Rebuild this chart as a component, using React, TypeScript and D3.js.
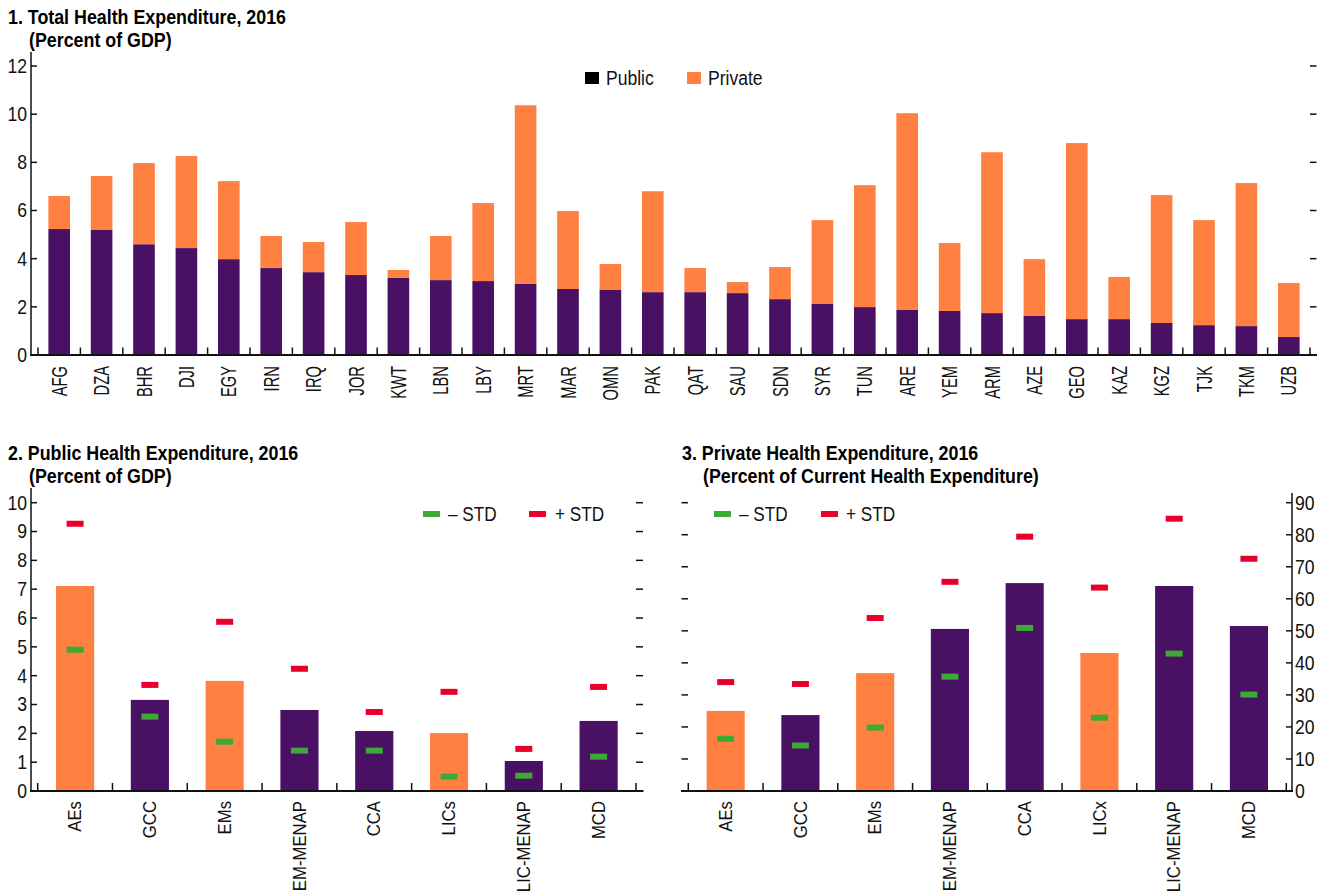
import React from "react";
import * as d3 from "d3";

// ---------- Data ----------
const countries = ["AFG","DZA","BHR","DJI","EGY","IRN","IRQ","JOR","KWT","LBN","LBY","MRT","MAR","OMN","PAK","QAT","SAU","SDN","SYR","TUN","ARE","YEM","ARM","AZE","GEO","KAZ","KGZ","TJK","TKM","UZB"];
const publicExp = [5.23,5.19,4.6,4.44,3.98,3.61,3.44,3.32,3.2,3.11,3.07,2.95,2.74,2.7,2.61,2.61,2.57,2.32,2.12,1.99,1.87,1.83,1.74,1.62,1.49,1.49,1.33,1.24,1.2,0.75];
const totalExp = [6.6,7.43,7.97,8.26,7.22,4.94,4.69,5.52,3.53,4.94,6.31,10.37,5.98,3.78,6.8,3.61,3.03,3.65,5.6,7.05,10.04,4.65,8.42,3.98,8.8,3.24,6.64,5.6,7.14,2.99];
const privateExp = totalExp.map((t, i) => +(t - publicExp[i]).toFixed(2));
const topTicks = [0, 2, 4, 6, 8, 10, 12];

const groupsPub = ["AEs","GCC","EMs","EM-MENAP","CCA","LICs","LIC-MENAP","MCD"];
const groupsPriv = ["AEs","GCC","EMs","EM-MENAP","CCA","LICx","LIC-MENAP","MCD"];
const groupHighlight = [true,false,true,false,false,true,false,false];

const pubMean = [7.11,3.16,3.82,2.81,2.08,2.01,1.04,2.43];
const pubPlus = [9.27,3.68,5.87,4.24,2.74,3.44,1.46,3.61];
const pubMinus = [4.9,2.58,1.71,1.4,1.4,0.5,0.53,1.19];
const pubTicks = [0,1,2,3,4,5,6,7,8,9,10];

const privMean = [25.0,23.7,36.8,50.6,64.9,43.1,64.0,51.5];
const privPlus = [34.0,33.4,54.0,65.3,79.4,63.5,85.0,72.5];
const privMinus = [16.3,14.2,19.8,35.7,50.9,22.9,42.9,30.1];
const privTicks = [0,10,20,30,40,50,60,70,80,90];

// ---------- Style ----------
const PURPLE = "#4a1064";
const ORANGE = "#ff8040";
const GREEN = "#3caa33";
const RED = "#e8002d";
const FONT = "'Liberation Sans', Arial, sans-serif";
const AX = "#111";

type TProps = {
  x: number; y: number; sx?: number; rot?: number; size?: number; bold?: boolean;
  anchor?: "start" | "middle" | "end"; baseline?: string; fill?: string; children: React.ReactNode;
};

// Narrow text: regular font compressed horizontally
function NText({ x, y, sx = 0.85, rot = 0, size = 20, bold = false, anchor = "start", baseline, fill = "#111", children }: TProps) {
  const tr = `translate(${x},${y})` + (rot ? ` rotate(${rot})` : "") + ` scale(${sx},1)`;
  return (
    <text transform={tr} fontSize={size} fontWeight={bold ? "bold" : "normal"} textAnchor={anchor}
      dominantBaseline={baseline as any} fill={fill}>{children}</text>
  );
}

function App() {
  // ---- Top chart ----
  const xTop = d3.scaleBand<string>().domain(countries).range([38, 1310]).paddingInner(0.49).paddingOuter(0.245);
  const yTop = d3.scaleLinear().domain([0, 12]).range([355, 66]);
  const stepTop = xTop.step();
  const topBounds = d3.range(countries.length + 1).map((i) => 38 + i * stepTop);

  // ---- Bottom left ----
  const xBL = d3.scaleBand<string>().domain(groupsPub).range([37.7, 636]).paddingInner(0.49).paddingOuter(0.245);
  const yBL = d3.scaleLinear().domain([0, 10]).range([791, 502.7]);
  const blBounds = d3.range(groupsPub.length + 1).map((i) => 37.7 + i * xBL.step());

  // ---- Bottom right ----
  const xBR = d3.scaleBand<string>().domain(groupsPriv).range([688.3, 1286.3]).paddingInner(0.49).paddingOuter(0.245);
  const yBR = d3.scaleLinear().domain([0, 90]).range([791, 502.7]);
  const brBounds = d3.range(groupsPriv.length + 1).map((i) => 688.3 + i * xBR.step());

  const mw = 17, mh = 6;
  const TS = 0.87; // title compression

  return (
    <svg width={1323} height={892} style={{ position: "absolute", left: 0, top: 0, background: "#fff" }} fontFamily={FONT}>
      {/* ===== Chart 1 ===== */}
      <NText x={8} y={24} size={20.5} bold sx={TS} fill="#000">1. Total Health Expenditure, 2016</NText>
      <NText x={29} y={47} size={20.5} bold sx={TS} fill="#000">(Percent of GDP)</NText>

      {countries.map((c, i) => (
        <g key={c}>
          <rect x={xTop(c)} y={yTop(publicExp[i])} width={xTop.bandwidth()} height={yTop(0) - yTop(publicExp[i])} fill={PURPLE} />
          <rect x={xTop(c)} y={yTop(totalExp[i])} width={xTop.bandwidth()} height={yTop(publicExp[i]) - yTop(totalExp[i])} fill={ORANGE} />
        </g>
      ))}
      {/* axes */}
      <line x1={31} x2={31} y1={52} y2={355} stroke={AX} strokeWidth={1.5} />
      <line x1={30} x2={1317} y1={355} y2={355} stroke={AX} strokeWidth={2} />
      {topTicks.map((t) => (
        <g key={"tt" + t}>
          <line x1={31} x2={37} y1={yTop(t)} y2={yTop(t)} stroke={AX} strokeWidth={1.5} />
          <line x1={1310} x2={1316.5} y1={yTop(t)} y2={yTop(t)} stroke={AX} strokeWidth={1.5} />
          <NText x={27} y={yTop(t)} size={20} sx={0.88} anchor="end" baseline="central">{t}</NText>
        </g>
      ))}
      {topBounds.map((b, i) => (
        <line key={"tb" + i} x1={b} x2={b} y1={355} y2={347.5} stroke={AX} strokeWidth={1.5} />
      ))}
      {countries.map((c) => {
        const cx = (xTop(c) as number) + xTop.bandwidth() / 2;
        return (
          <NText key={"lt" + c} x={cx} y={366} rot={-90} size={22} sx={0.67} anchor="end" baseline="central">{c}</NText>
        );
      })}
      {/* legend */}
      <rect x={585} y={72} width={14} height={12} fill="#000" />
      <NText x={606} y={78} size={19.5} sx={0.9} baseline="central">Public</NText>
      <rect x={687} y={72} width={14} height={12} fill={ORANGE} />
      <NText x={708} y={78} size={19.5} sx={0.9} baseline="central">Private</NText>

      {/* ===== Chart 2 ===== */}
      <NText x={8} y={460} size={20.5} bold sx={TS} fill="#000">2. Public Health Expenditure, 2016</NText>
      <NText x={29} y={483} size={20.5} bold sx={TS} fill="#000">(Percent of GDP)</NText>
      {groupsPub.map((g, i) => {
        const x0 = xBL(g) as number;
        const cx = x0 + xBL.bandwidth() / 2;
        return (
          <g key={"bl" + g}>
            <rect x={x0} y={yBL(pubMean[i])} width={xBL.bandwidth()} height={yBL(0) - yBL(pubMean[i])} fill={groupHighlight[i] ? ORANGE : PURPLE} />
            <rect x={cx - mw / 2} y={yBL(pubPlus[i]) - mh / 2} width={mw} height={mh} fill={RED} />
            <rect x={cx - mw / 2} y={yBL(pubMinus[i]) - mh / 2} width={mw} height={mh} fill={GREEN} />
          </g>
        );
      })}
      <line x1={31} x2={31} y1={488} y2={791} stroke={AX} strokeWidth={1.5} />
      <line x1={30} x2={643.5} y1={791} y2={791} stroke={AX} strokeWidth={2} />
      {pubTicks.map((t) => (
        <g key={"pt" + t}>
          <line x1={31} x2={37} y1={yBL(t)} y2={yBL(t)} stroke={AX} strokeWidth={1.5} />
          <line x1={636} x2={643} y1={yBL(t)} y2={yBL(t)} stroke={AX} strokeWidth={1.5} />
          <NText x={27} y={yBL(t)} size={20} sx={0.88} anchor="end" baseline="central">{t}</NText>
        </g>
      ))}
      {blBounds.map((b, i) => (
        <line key={"blb" + i} x1={b} x2={b} y1={791} y2={783} stroke={AX} strokeWidth={1.5} />
      ))}
      {groupsPub.map((g) => {
        const cx = (xBL(g) as number) + xBL.bandwidth() / 2;
        return (
          <NText key={"lb" + g} x={cx} y={801} rot={-90} size={18} sx={0.93} anchor="end" baseline="central">{g}</NText>
        );
      })}
      <rect x={423} y={511} width={17} height={6} fill={GREEN} />
      <NText x={448} y={514} size={20} sx={0.86} baseline="central">– STD</NText>
      <rect x={529} y={511} width={17} height={6} fill={RED} />
      <NText x={555} y={514} size={20} sx={0.86} baseline="central">+ STD</NText>

      {/* ===== Chart 3 ===== */}
      <NText x={682} y={460} size={20.5} bold sx={TS} fill="#000">3. Private Health Expenditure, 2016</NText>
      <NText x={703} y={483} size={20.5} bold sx={TS} fill="#000">(Percent of Current Health Expenditure)</NText>
      {groupsPriv.map((g, i) => {
        const x0 = xBR(g) as number;
        const cx = x0 + xBR.bandwidth() / 2;
        return (
          <g key={"br" + g}>
            <rect x={x0} y={yBR(privMean[i])} width={xBR.bandwidth()} height={yBR(0) - yBR(privMean[i])} fill={groupHighlight[i] ? ORANGE : PURPLE} />
            <rect x={cx - mw / 2} y={yBR(privPlus[i]) - mh / 2} width={mw} height={mh} fill={RED} />
            <rect x={cx - mw / 2} y={yBR(privMinus[i]) - mh / 2} width={mw} height={mh} fill={GREEN} />
          </g>
        );
      })}
      <line x1={1292} x2={1292} y1={493} y2={791} stroke={AX} strokeWidth={1.5} />
      <line x1={681} x2={1293} y1={791} y2={791} stroke={AX} strokeWidth={2} />
      {privTicks.map((t) => (
        <g key={"rt" + t}>
          <line x1={681.5} x2={688} y1={yBR(t)} y2={yBR(t)} stroke={AX} strokeWidth={1.5} />
          <line x1={1286} x2={1292} y1={yBR(t)} y2={yBR(t)} stroke={AX} strokeWidth={1.5} />
          <NText x={1295} y={yBR(t)} size={20} sx={0.88} baseline="central">{t}</NText>
        </g>
      ))}
      {brBounds.map((b, i) => (
        <line key={"brb" + i} x1={b} x2={b} y1={791} y2={783} stroke={AX} strokeWidth={1.5} />
      ))}
      {groupsPriv.map((g) => {
        const cx = (xBR(g) as number) + xBR.bandwidth() / 2;
        return (
          <NText key={"lr" + g} x={cx} y={801} rot={-90} size={18} sx={0.93} anchor="end" baseline="central">{g}</NText>
        );
      })}
      <rect x={714} y={511} width={17} height={6} fill={GREEN} />
      <NText x={739} y={514} size={20} sx={0.86} baseline="central">– STD</NText>
      <rect x={821} y={511} width={17} height={6} fill={RED} />
      <NText x={846} y={514} size={20} sx={0.86} baseline="central">+ STD</NText>
    </svg>
  );
}

export default App;
